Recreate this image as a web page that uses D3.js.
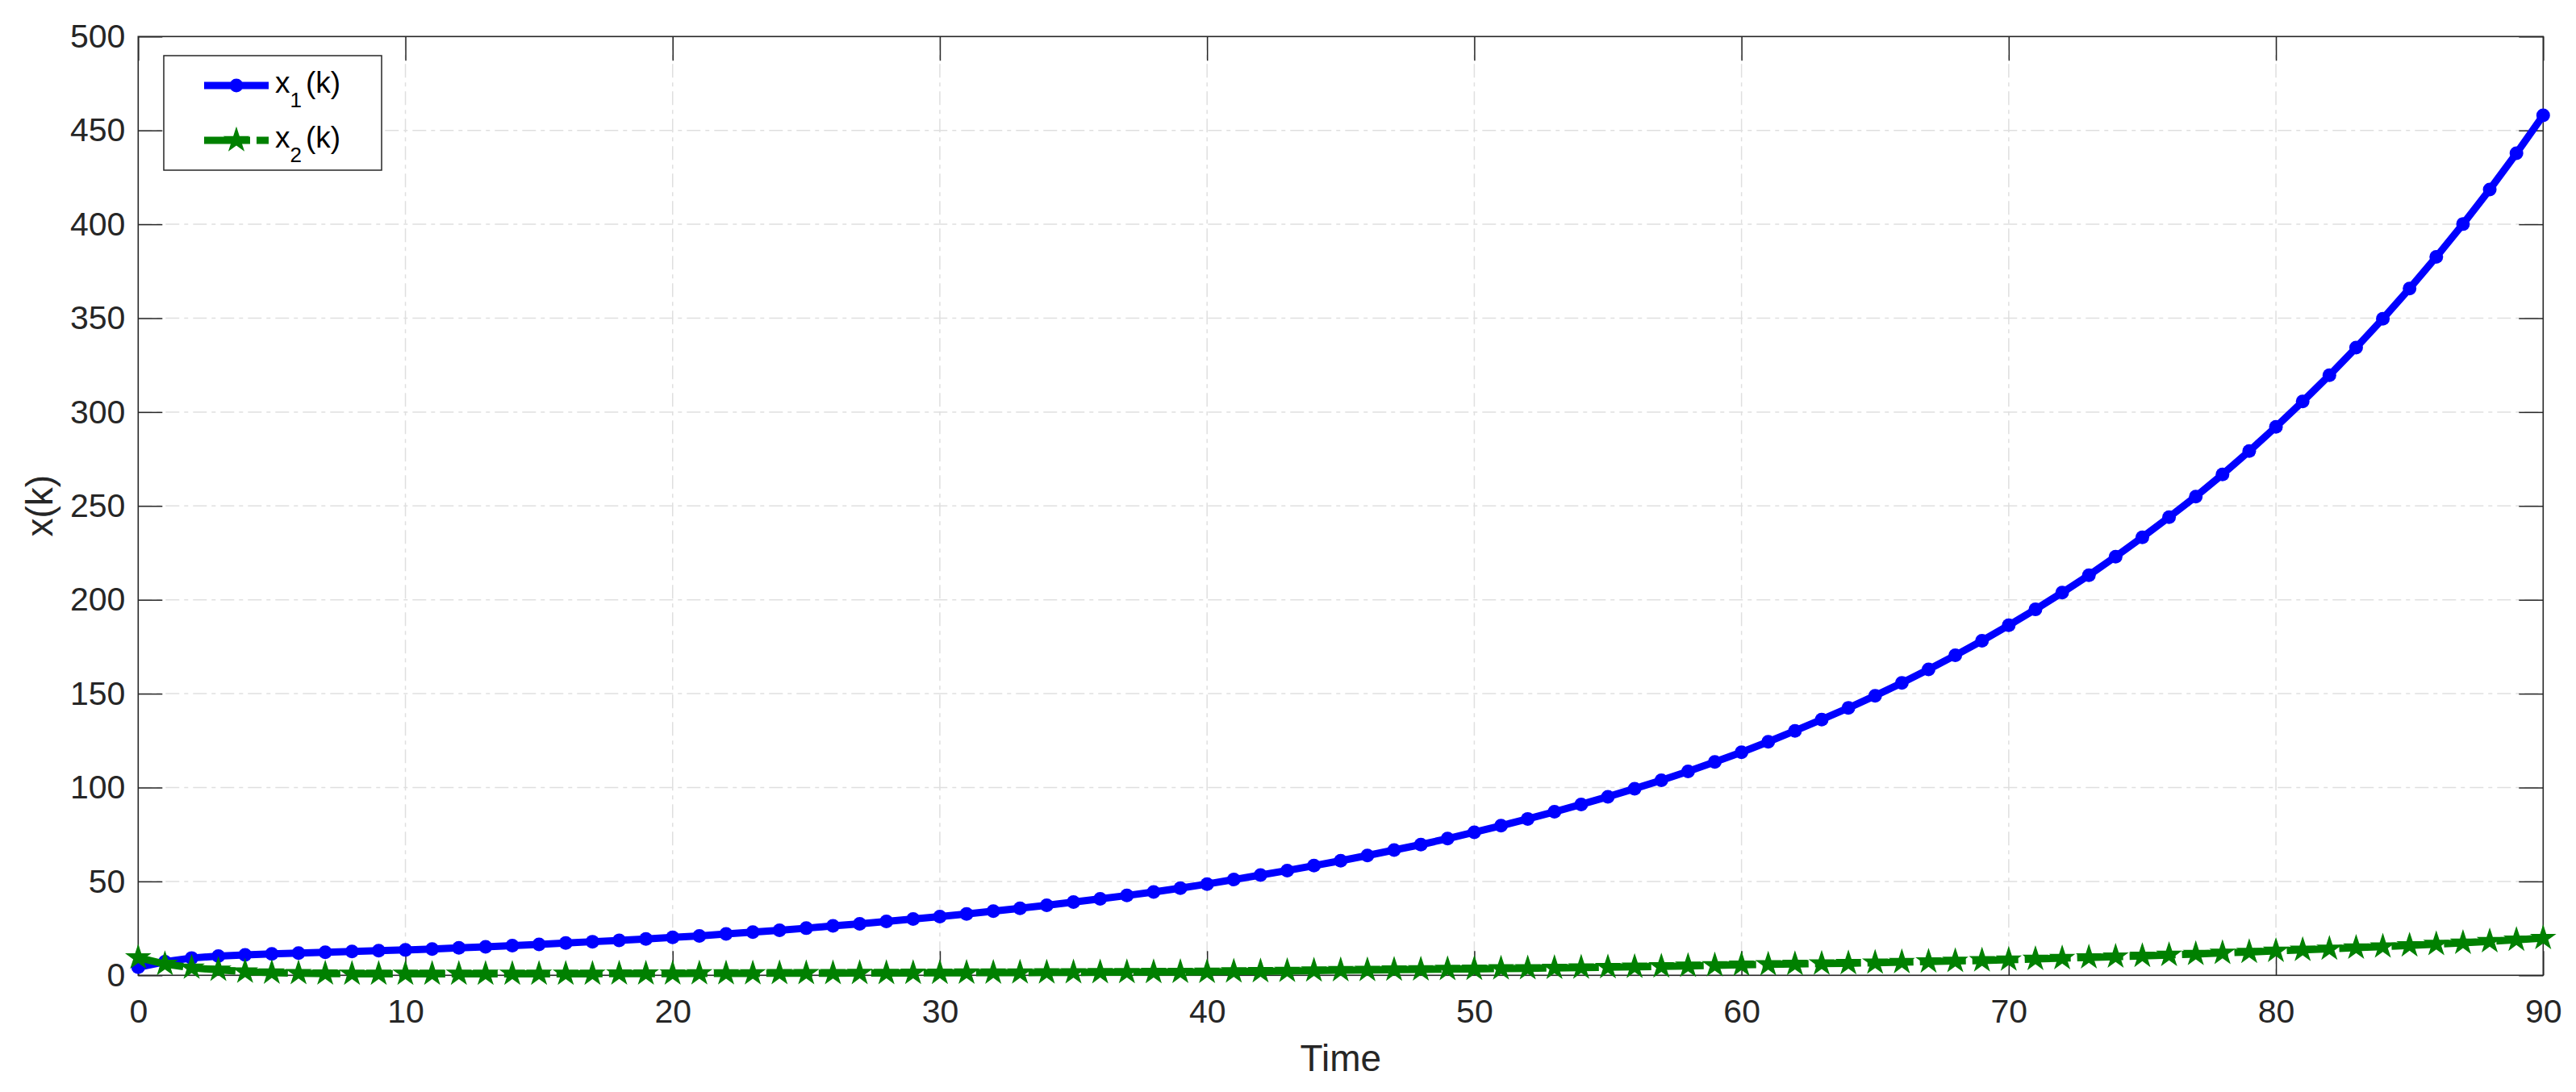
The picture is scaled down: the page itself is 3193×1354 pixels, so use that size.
<!DOCTYPE html>
<html>
<head>
<meta charset="utf-8">
<script src="https://cdn.jsdelivr.net/npm/d3@7"></script>
<style>
  body { margin: 0; background: #fff; }
  svg { display: block; }
  .tick text { font-family: "Liberation Sans", Arial, sans-serif; fill: #262626; }
</style>
</head>
<body>
<svg id="chart" width="3193" height="1354"></svg>
<script>
// time steps
var steps = d3.range(0, 91);

// x1(k)
var x1Values = [
  4.3, 7.2, 9.2, 10.2, 10.9, 11.4, 11.8, 12.3, 12.7, 13.1,
  13.5, 14.0, 14.6, 15.2, 15.8, 16.5, 17.2, 17.9, 18.6, 19.4,
  20.2, 21.0, 22.0, 23.0, 24.0, 25.1, 26.3, 27.4, 28.7, 30.0,
  31.3, 32.7, 34.2, 35.7, 37.3, 39.0, 40.7, 42.5, 44.4, 46.4,
  48.6, 51.0, 53.4, 55.8, 58.4, 61.0, 63.8, 66.7, 69.6, 72.8,
  76.2, 79.7, 83.3, 87.1, 91.0, 95.1, 99.4, 103.9, 108.6, 113.6,
  118.8, 124.4, 130.2, 136.2, 142.4, 148.9, 155.7, 162.9, 170.4, 178.2,
  186.4, 194.9, 203.8, 213.1, 223.0, 233.3, 244.0, 255.0, 266.8, 279.2,
  292.1, 305.6, 319.6, 334.3, 349.7, 365.8, 382.6, 400.1, 418.5, 437.8,
  458.0
];

// x2(k)
var x2Values = [
  9.4, 6.0, 4.0, 2.9, 1.9, 1.4, 1.1, 0.9, 0.8, 0.8,
  0.8, 0.8, 0.8, 0.8, 0.8, 0.8, 0.8, 0.8, 0.9, 0.9,
  0.9, 1.0, 1.0, 1.0, 1.1, 1.1, 1.1, 1.2, 1.2, 1.25,
  1.3, 1.35, 1.4, 1.45, 1.5, 1.55, 1.6, 1.65, 1.7, 1.75,
  1.8, 2.0, 2.1, 2.3, 2.5, 2.7, 2.8, 3.0, 3.1, 3.3,
  3.4, 3.6, 3.7, 3.9, 4.1, 4.3, 4.5, 4.7, 5.0, 5.3,
  5.6, 5.8, 6.0, 6.2, 6.4, 6.7, 7.0, 7.3, 7.6, 7.9,
  8.3, 8.7, 9.1, 9.5, 9.9, 10.3, 10.8, 11.3, 11.9, 12.4,
  13.0, 13.5, 14.1, 14.7, 15.3, 15.9, 16.6, 17.3, 18.1, 18.9,
  19.8
];

var xTicks = [0, 10, 20, 30, 40, 50, 60, 70, 80, 90];
var yTicks = [0, 50, 100, 150, 200, 250, 300, 350, 400, 450, 500];

var seriesNames = ["x1", "x2"];
var seriesSubs = ["1", "2"];

var svg = d3.select("#chart"),
    margin = {top: 45.3, right: 40.7, bottom: 144.7, left: 171.3},
    width = +svg.attr("width") - margin.left - margin.right,
    height = +svg.attr("height") - margin.top - margin.bottom;

var axisColor = "#262626",
    gridColor = "#dfdfdf",
    blue = "#0000ff",
    green = "#008000";

var x = d3.scaleLinear().domain([0, 90]).range([0, width]),
    y = d3.scaleLinear().domain([0, 500]).range([height, 0]);

svg.append("rect").attr("width", 3193).attr("height", 1354).attr("fill", "#fff");

var g = svg.append("g")
    .attr("transform", "translate(" + margin.left + "," + margin.top + ")");

// grid (dash-dot, light grey)
g.append("g").selectAll("line")
    .data(xTicks.slice(1, -1))
  .enter().append("line")
    .attr("x1", function(d) { return x(d); })
    .attr("x2", function(d) { return x(d); })
    .attr("y1", 0).attr("y2", height)
    .attr("stroke", gridColor).attr("stroke-width", 1.5)
    .attr("stroke-dasharray", "17,6,5,6");

g.append("g").selectAll("line")
    .data(yTicks.slice(1, -1))
  .enter().append("line")
    .attr("y1", function(d) { return y(d); })
    .attr("y2", function(d) { return y(d); })
    .attr("x1", 0).attr("x2", width)
    .attr("stroke", gridColor).attr("stroke-width", 1.5)
    .attr("stroke-dasharray", "17,6,5,6");

// axes: ticks point inward, on all four sides
function styleAxis(sel) {
  sel.select(".domain").remove();
  sel.selectAll(".tick line").attr("stroke", axisColor).attr("stroke-width", 1.5);
}

g.append("g")
    .attr("transform", "translate(0," + height + ")")
    .call(d3.axisBottom(x).tickValues(xTicks).tickSize(-30).tickPadding(30))
    .call(styleAxis)
    .selectAll("text").style("font-size", "41px");

g.append("g")
    .call(d3.axisLeft(y).tickValues(yTicks).tickSize(-30).tickPadding(16))
    .call(styleAxis)
    .selectAll("text").style("font-size", "41px");

g.append("g")
    .call(d3.axisTop(x).tickValues(xTicks).tickSize(-30).tickFormat(""))
    .call(styleAxis);

g.append("g")
    .attr("transform", "translate(" + width + ",0)")
    .call(d3.axisRight(y).tickValues(yTicks).tickSize(-30).tickFormat(""))
    .call(styleAxis);

// box
g.append("rect")
    .attr("width", width).attr("height", height)
    .attr("fill", "none").attr("stroke", axisColor).attr("stroke-width", 1.6);

// series
var line = d3.line()
    .x(function(d, i) { return x(steps[i]); })
    .y(function(d) { return y(d); });

var star = d3.symbol().type(d3.symbolStar).size(330);

g.append("path")
    .datum(x1Values)
    .attr("d", line)
    .attr("fill", "none").attr("stroke", blue).attr("stroke-width", 9)
    .attr("stroke-linejoin", "round");

g.append("g").selectAll("circle")
    .data(x1Values)
  .enter().append("circle")
    .attr("cx", function(d, i) { return x(steps[i]); })
    .attr("cy", function(d) { return y(d); })
    .attr("r", 8.5)
    .attr("fill", blue);

g.append("path")
    .datum(x2Values)
    .attr("d", line)
    .attr("fill", "none").attr("stroke", green).attr("stroke-width", 9)
    .attr("stroke-dasharray", "57,8");

g.append("g").selectAll("path")
    .data(x2Values)
  .enter().append("path")
    .attr("d", star)
    .attr("transform", function(d, i) { return "translate(" + x(steps[i]) + "," + y(d) + ")"; })
    .attr("fill", green);

// axis titles
svg.append("text")
    .attr("x", margin.left + width / 2)
    .attr("y", 1328)
    .attr("text-anchor", "middle")
    .attr("font-family", "Liberation Sans, Arial, sans-serif")
    .attr("font-size", 46)
    .attr("fill", axisColor)
    .text("Time");

svg.append("text")
    .attr("transform", "translate(65," + (margin.top + height / 2) + ") rotate(-90)")
    .attr("text-anchor", "middle")
    .attr("font-family", "Liberation Sans, Arial, sans-serif")
    .attr("font-size", 46)
    .attr("fill", axisColor)
    .text("x(k)");

// legend
var legend = svg.append("g").attr("transform", "translate(203,69)");

legend.append("rect")
    .attr("width", 270).attr("height", 142)
    .attr("fill", "#fff").attr("stroke", axisColor).attr("stroke-width", 1.5);

var rows = legend.selectAll(".row")
    .data(seriesNames)
  .enter().append("g")
    .attr("class", "row")
    .attr("transform", function(d, i) { return "translate(0," + (37 + i * 68) + ")"; });

rows.append("line")
    .attr("x1", 50).attr("x2", 130)
    .attr("stroke", function(d, i) { return i === 0 ? blue : green; })
    .attr("stroke-width", 9)
    .attr("stroke-dasharray", function(d, i) { return i === 0 ? null : "57,8"; });

rows.filter(function(d, i) { return i === 0; })
  .append("circle")
    .attr("cx", 90).attr("r", 8.5).attr("fill", blue);

rows.filter(function(d, i) { return i === 1; })
  .append("path")
    .attr("d", star)
    .attr("transform", "translate(90,0)")
    .attr("fill", green);

var labels = rows.append("text")
    .attr("x", 138)
    .attr("y", 9)
    .attr("font-family", "Liberation Sans, Arial, sans-serif")
    .attr("font-size", 37)
    .attr("fill", "#000");

labels.append("tspan").text("x");
labels.append("tspan")
    .attr("font-size", 26)
    .attr("dy", 18)
    .text(function(d, i) { return seriesSubs[i]; });
labels.append("tspan")
    .attr("dy", -18)
    .attr("dx", 5)
    .text("(k)");
</script>
</body>
</html>
